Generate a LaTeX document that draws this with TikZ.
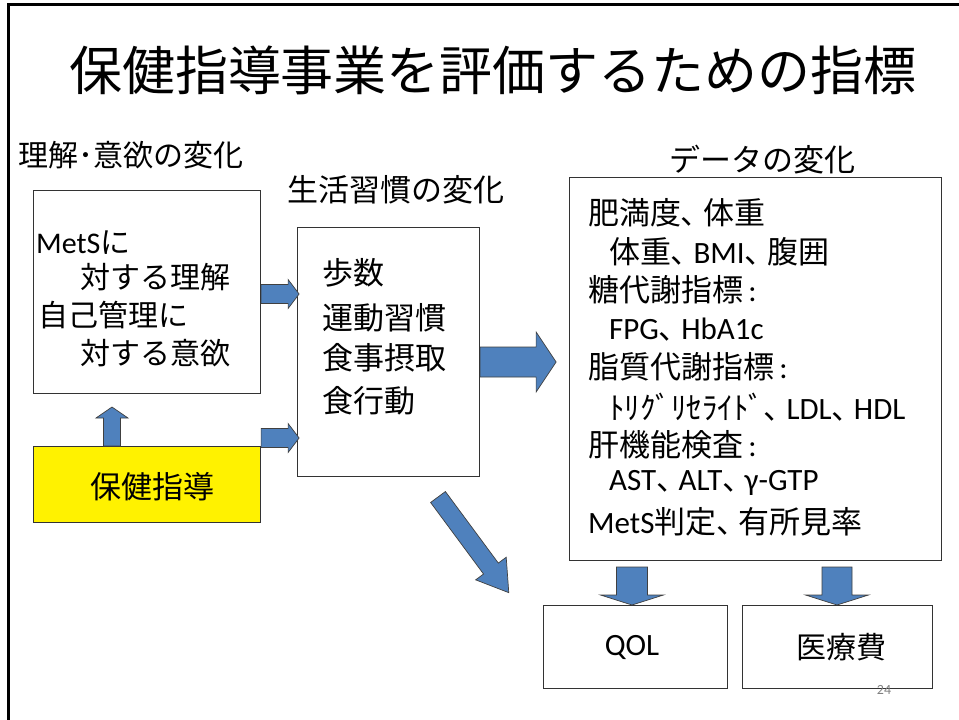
\documentclass[tikz,border=0pt]{standalone}
\usepackage{fontspec}
\setmainfont{Noto Sans CJK JP}
\newfontfamily\lat{Carlito}
\newfontfamily\jpp[RawFeature=+palt]{Noto Sans CJK JP}
\newcommand\tou{{\jpp 、}\hspace{0.22em}}
\definecolor{arrowblue}{HTML}{4F81BD}
\tikzset{
  box/.style={draw=black!80, line width=1.1pt, fill=white, inner sep=0pt, anchor=north west},
  barrow/.style={fill=arrowblue, draw=black!75, line width=0.7pt, line join=miter},
  txt/.style={inner sep=0pt, anchor=west, font=\fontsize{30}{36}\selectfont},
  dtxt/.style={inner sep=0pt, anchor=west, font=\fontsize{31}{36}\selectfont},
  ctxt/.style={inner sep=0pt, font=\fontsize{30}{36}\selectfont},
}
\newcommand\barr[6]{\begin{scope}[shift={(#1)},rotate=#2]
  \filldraw[barrow] (0,#4) -- ({#3-#6},#4) -- ({#3-#6},#5) -- (#3,0) -- ({#3-#6},-#5) -- ({#3-#6},-#4) -- (0,-#4) -- cycle;
\end{scope}}
\begin{document}
\begin{tikzpicture}[x=1pt,y=-1pt]
\useasboundingbox (0,0) rectangle (959,720);
\fill[white] (0,0) rectangle (959,720);
% frame
\draw[line width=3pt] (959,4) -- (8,4) -- (8,720);
% title
\node[inner sep=0pt, font=\fontsize{53}{60}\selectfont] (title) at (493,70) {保健指導事業を評価するための指標};
% section labels
\node[txt] (lab1) at (18,155) {理解･意欲の変化};
\node[txt, font=\fontsize{31}{36}\selectfont] (lab2) at (287,190) {生活習慣の変化};
\node[ctxt, font=\fontsize{31}{36}\selectfont] (lab3) at (762,160) {データの変化};
% boxes
\node[box, minimum width=227pt, minimum height=203pt] (und) at (33,190) {};
\node[box, fill=yellow, minimum width=227pt, minimum height=76pt] (hs) at (33,446) {};
\node[box, minimum width=182pt, minimum height=249pt] (hab) at (297,227) {};
\node[box, minimum width=372pt, minimum height=383pt] (dat) at (569,177) {};
\node[box, minimum width=184pt, minimum height=83pt] (qol) at (543,605) {};
\node[box, minimum width=190pt, minimum height=83pt] (cost) at (742,605) {};
% text in understanding box
\node[txt] (u1) at (36,243) {{\lat MetS}に};
\node[txt] (u2) at (80,277) {対する理解};
\node[txt] (u3) at (38,315) {自己管理に};
\node[txt] (u4) at (80,353) {対する意欲};
% yellow
\node[ctxt, font=\fontsize{31}{36}\selectfont] (hst) at (152,487) {保健指導};
% habits
\node[txt, font=\fontsize{31}{36}\selectfont] (h1) at (322,273) {歩数};
\node[txt, font=\fontsize{31}{36}\selectfont] (h2) at (322,318) {運動習慣};
\node[txt, font=\fontsize{31}{36}\selectfont] (h3) at (322,358) {食事摂取};
\node[txt, font=\fontsize{31}{36}\selectfont] (h4) at (322,401) {食行動};
% data
\node[dtxt] (d1) at (588,213) {肥満度\tou 体重};
\node[dtxt] (d2) at (609,252) {体重\tou{\lat BMI}\tou 腹囲};
\node[dtxt] (d3) at (588,290) {糖代謝指標{\lat\,:}};
\node[dtxt] (d4) at (609,330) {{\lat FPG}\tou{\lat HbA1c}};
\node[dtxt] (d5) at (588,367) {脂質代謝指標{\lat\,:}};
\node[dtxt] (d6) at (609,407) {ﾄﾘｸﾞﾘｾﾗｲﾄﾞ\tou{\lat LDL}\tou{\lat HDL}};
\node[dtxt] (d7) at (588,445) {肝機能検査{\lat\,:}};
\node[dtxt] (d8) at (609,483) {{\lat AST}\tou{\lat ALT}\tou{\lat γ-GTP}};
\node[dtxt] (d9) at (588,522) {{\lat MetS}判定\tou 有所見率};
% bottom
\node[ctxt, font=\lat\fontsize{31}{36}\selectfont] (qolt) at (632,647) {QOL};
\node[ctxt] (costt) at (841,647) {医療費};
\node[inner sep=0pt, text=gray, font=\lat\fontsize{14}{16}\selectfont] (pg) at (884,690) {24};
% block arrows
\barr{hs.north -| 112,0}{90}{39}{8.5}{16}{11}
\barr{und.east |- 0,294}{0}{38}{9.5}{14.5}{11}
\barr{und.east |- 0,438}{0}{38}{9.5}{14.5}{11}
\barr{hab.east |- 0,362}{0}{76}{15}{30}{20}
\barr{438,497}{-53.5}{119}{9.2}{19}{30}
\barr{632,567}{-90}{38}{15.5}{31.5}{10}
\barr{837,567}{-90}{38}{15}{31.5}{10}
\end{tikzpicture}
\end{document}
